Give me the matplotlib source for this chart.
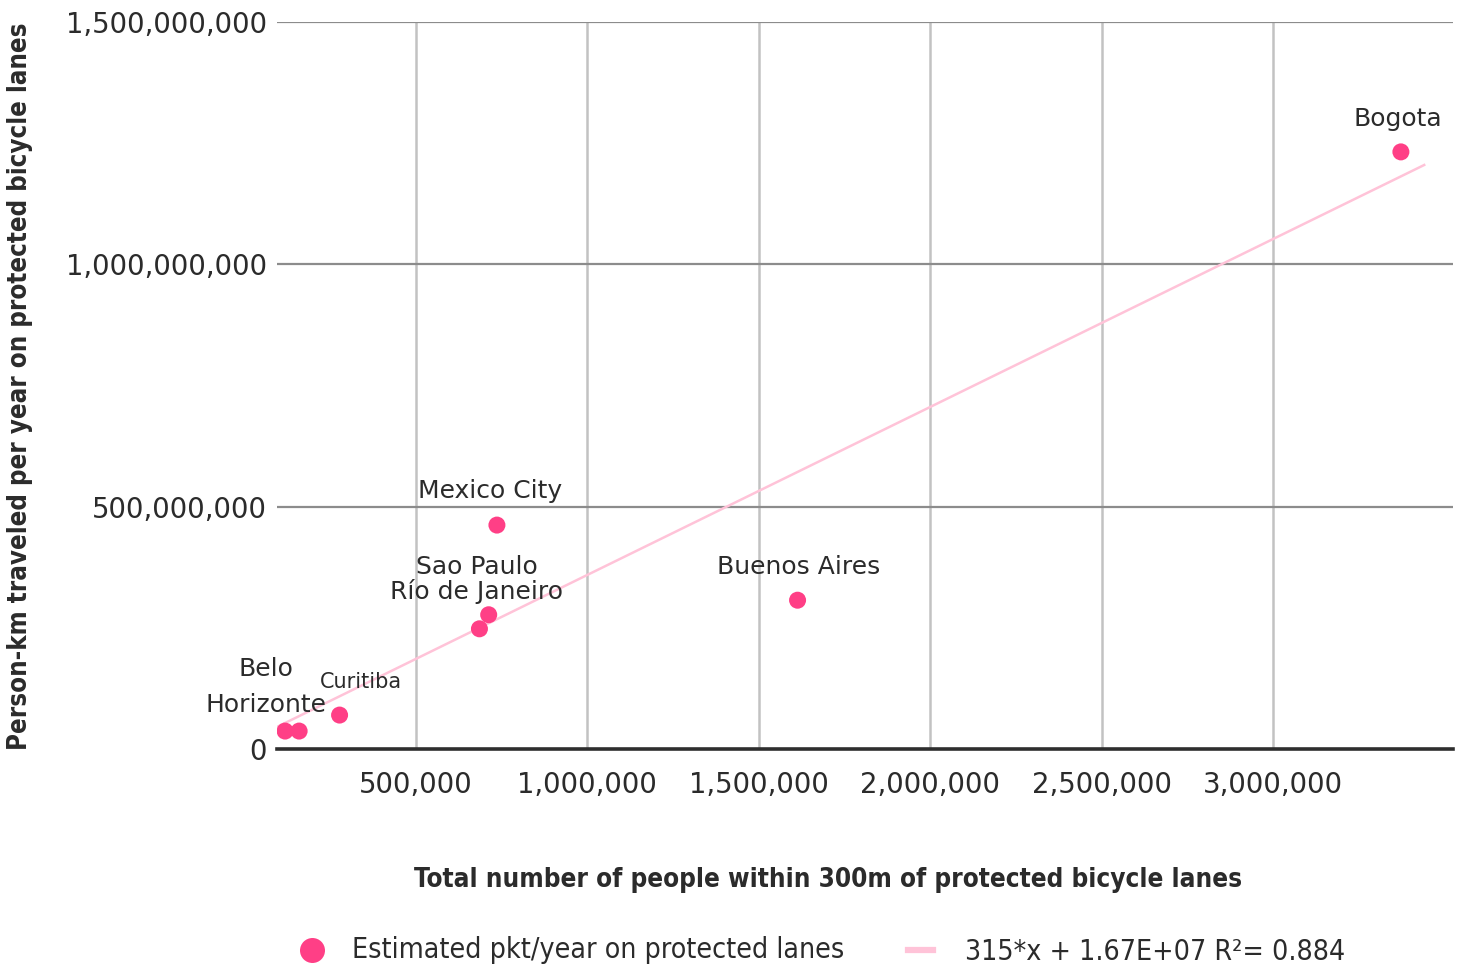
import matplotlib
matplotlib.use("Agg")
import matplotlib.pyplot as plt
from matplotlib.lines import Line2D

# ---- data ----
cities = ["", "Belo\nHorizonte", "Curitiba", "Río de Janeiro", "Sao Paulo",
          "Mexico City", "Buenos Aires", "Bogota"]
people = [118000, 159000, 277000, 685000, 712000, 736000, 1613000, 3373000]
pkt = [37e6, 37e6, 70e6, 248e6, 277e6, 462e6, 307e6, 1232e6]
trend_x = [93000, 3441000]
trend_y = [45e6, 1205e6]
x_ticks = [500000, 1000000, 1500000, 2000000, 2500000, 3000000]
y_ticks = [0, 500000000, 1000000000, 1500000000]

PINK = "#ff3f86"
TREND = "#ffc3d8"
TXT = "#2b2b2b"
COND = ["DejaVu Sans"]

fig = plt.figure(figsize=(14.6, 9.68), dpi=100)
ax = fig.add_axes([276.5 / 1460, 1 - 749 / 968, (1453 - 276.5) / 1460, (749 - 22) / 968])
ax.set_xlim(93000, 3525000)
ax.set_ylim(0, 1.5e9)

for v in x_ticks:
    ax.axvline(v, color="#c2c2c2", lw=1.8, zorder=1)
for v in y_ticks[1:]:
    ax.axhline(v, color="#8c8c8c", lw=1.6, zorder=1)

for s in ["top", "right", "left"]:
    ax.spines[s].set_visible(False)
ax.spines["bottom"].set_color("#2e2e2e")
ax.spines["bottom"].set_linewidth(2.6)
ax.spines["bottom"].set_zorder(3)

ax.set_xticks(x_ticks)
ax.set_xticklabels([f"{v:,}" for v in x_ticks])
ax.set_yticks(y_ticks)
ax.set_yticklabels([f"{v:,}" for v in y_ticks])
ax.tick_params(axis="x", length=0, pad=16, labelsize=19.8, labelcolor=TXT)
ax.tick_params(axis="y", length=0, pad=7, labelsize=19.8, labelcolor=TXT)

ax.plot(trend_x, trend_y, color=TREND, lw=1.8, zorder=2)
ax.scatter(people, pkt, s=150, color=PINK, edgecolor="none", zorder=4)

# label offsets in pixels (dx, dy) relative to each point
offsets = [(0, 0), (-33, 44), (21, 33), (-3, 37), (-12, 48), (-7, 34), (1, 33), (-3, 33)]
sizes = [18, 18, 15, 18, 18, 18, 18, 18]
for name, x, y, (dx, dy), fs in zip(cities, people, pkt, offsets, sizes):
    if not name:
        continue
    ax.annotate(name, (x, y), xytext=(dx, dy), textcoords="offset pixels",
                ha="center", va="center", fontsize=fs, color=TXT,
                linespacing=1.65, zorder=5)

fig.text(828 / 1460, 1 - 880 / 968, "Total number of people within 300m of protected bicycle lanes",
         ha="center", va="center", fontsize=18.7, fontweight="bold", family=COND,
         fontstretch="condensed", color=TXT)
fig.text(20 / 1460, 1 - 386 / 968, "Person-km traveled per year on protected bicycle lanes",
         ha="center", va="center", rotation=90, fontsize=18.5, fontweight="bold", family=COND,
         fontstretch="condensed", color=TXT)

# legend
fig.lines.append(Line2D([312 / 1460], [1 - 950 / 968], marker="o", markersize=18,
                        color=PINK, markeredgewidth=0, transform=fig.transFigure))
fig.text(352 / 1460, 1 - 950 / 968, "Estimated pkt/year on protected lanes",
         ha="left", va="center", fontsize=20.4, family=COND, fontstretch="condensed", color=TXT)
fig.lines.append(Line2D([908 / 1460, 933 / 1460], [1 - 950 / 968, 1 - 950 / 968],
                        color=TREND, lw=4.5, transform=fig.transFigure))
fig.text(965 / 1460, 1 - 952 / 968, "315*x + 1.67E+07 R²= 0.884",
         ha="left", va="center", fontsize=20.4, family=COND, fontstretch="condensed", color=TXT)

fig.savefig("out.png", dpi=100)
